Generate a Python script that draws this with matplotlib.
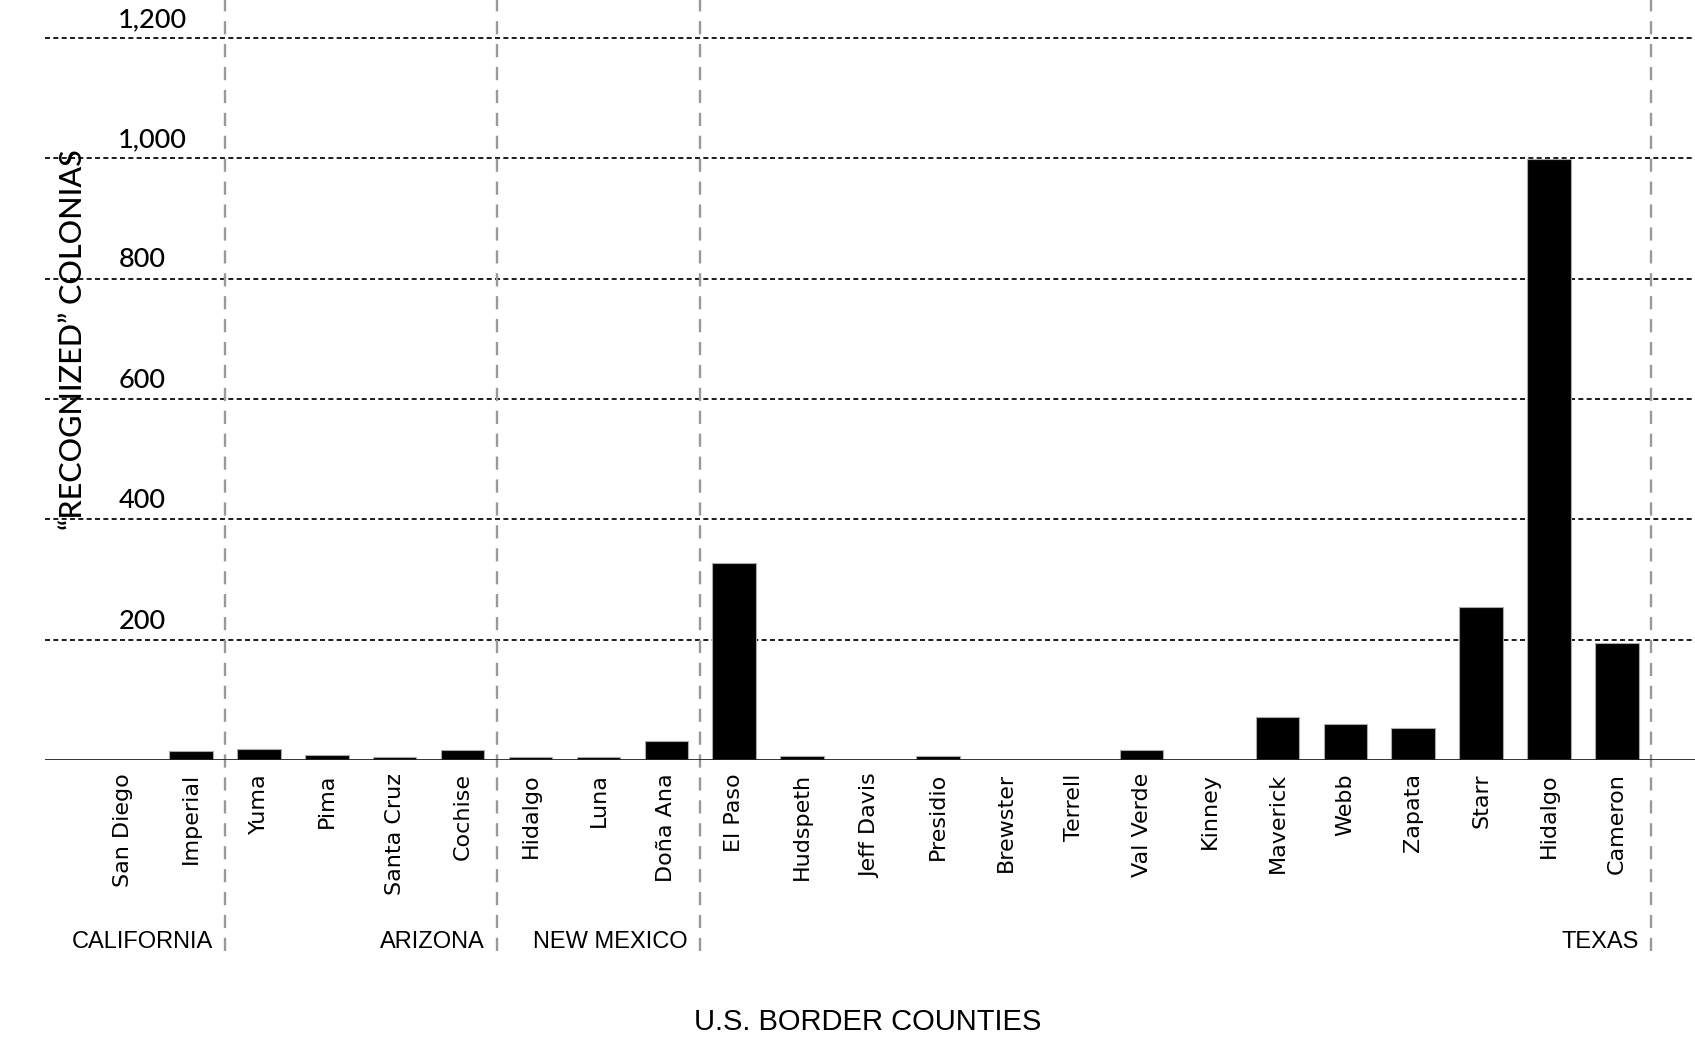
import matplotlib
matplotlib.use("Agg")
from matplotlib import pyplot as plt
import numpy as np

# data
counties = ["San Diego", "Imperial",
            "Yuma", "Pima", "Santa Cruz", "Cochise",
            "Hidalgo", "Luna", "Doña Ana",
            "El Paso", "Hudspeth", "Jeff Davis", "Presidio", "Brewster", "Terrell",
            "Val Verde", "Kinney", "Maverick", "Webb", "Zapata", "Starr", "Hidalgo", "Cameron"]
colonias = [0, 15,
            19, 8, 5, 16,
            5, 5, 32,
            328, 6, 0, 6, 0, 0,
            16, 0, 71, 59, 54, 255, 998, 194]
states = ["CALIFORNIA", "ARIZONA", "NEW MEXICO", "TEXAS"]
stateCounts = [2, 4, 3, 14]
yTicks = [200, 400, 600, 800, 1000, 1200]
yTickLabels = ["200", "400", "600", "800", "1,000", "1,200"]

plt.rcParams["lines.scale_dashes"] = False
narrow = ["Liberation Sans", "DejaVu Sans"]

fig = plt.figure(figsize=(16.95, 10.47), dpi=100)
ax = fig.add_axes([45/1695, 1-760/1047, 1-45/1695, 760/1047])
x = np.arange(len(counties))
ax.set_xlim(-1.15, len(counties) + 0.15)
ax.set_ylim(0, 1263)
for s in ax.spines.values():
    s.set_visible(False)
ax.set_xticks([])
ax.set_yticks([])

# horizontal gridlines
for v, lab in zip(yTicks, yTickLabels):
    ax.axhline(v, color="black", lw=1.25, ls=(0, (3.6, 2.4)), zorder=1)
    ax.annotate(lab, (-0.07, v), xytext=(0, 8), textcoords="offset points",
                ha="left", va="baseline", fontsize=19.5, family="Lato",
                fontweight="medium", color="black")

ax.bar(x, colonias, width=0.64, color="black", edgecolor="#aaaaaa", linewidth=0.8, zorder=3)
ax.axhline(0, color="#222222", lw=2.0, zorder=4)

# state dividers and labels
bounds = np.cumsum(stateCounts) - 0.5
for b, st in zip(bounds, states):
    ax.plot([b, b], [-318, 1263], color="#999999", lw=1.7, ls=(0, (9.5, 7.0)),
            clip_on=False, zorder=2)
    ax.text(b - 0.18, -302, st, ha="right", va="center", fontsize=17,
            family=narrow, color="black", clip_on=False)

for xi, name in zip(x, counties):
    ax.annotate(name, (xi, 0), xytext=(0, -9.5), textcoords="offset points",
                rotation=90, ha="center", va="top", fontsize=16,
                family="DejaVu Sans", color="black", annotation_clip=False)

fig.text(73/1695, 1-340/1047, "\u201cRECOGNIZED\u201d COLONIAS", rotation=90,
         ha="center", va="center", fontsize=22, family="Lato", fontweight="medium")
fig.text(868/1695, 1-1022/1047, "U.S. BORDER COUNTIES", ha="center", va="center",
         fontsize=21, family=narrow)

fig.savefig("out.png", dpi=100, facecolor="white")
